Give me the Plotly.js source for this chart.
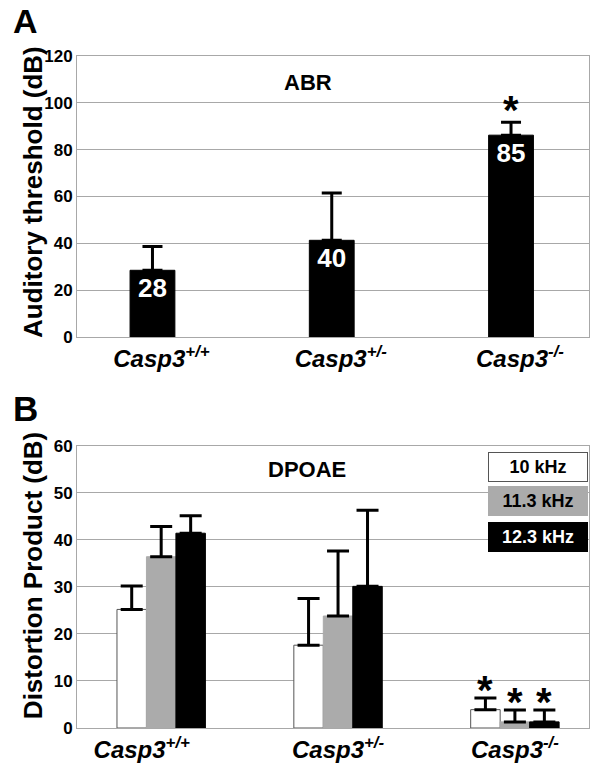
<!DOCTYPE html>
<html><head><meta charset="utf-8">
<script src="https://cdn.plot.ly/plotly-3.0.1.min.js"></script>
<style>html,body{margin:0;padding:0;background:#fff}#chart{width:600px;height:776px}</style>
</head><body><div id="chart"></div>
<script>
// ---- data ----
const genotypes = ['+/+', '+/-', '-/-'];
const abrMean = [28.5, 41.3, 86.2];
const abrErr = [10.2, 20.2, 5.5];
const abrLabels = ['28', '40', '85'];
const abrSig = [false, false, true];

const freqNames = ['10 kHz', '11.3 kHz', '12.3 kHz'];
const dp10 = [25.2, 17.6, 3.9];
const dp10Err = [5.0, 9.9, 2.5];
const dp113 = [36.4, 23.8, 1.3];
const dp113Err = [6.4, 13.8, 2.5];
const dp123 = [41.4, 30.1, 1.3];
const dp123Err = [3.7, 16.2, 2.5];
const dpSig = [false, false, true];

const yTicksA = [0, 20, 40, 60, 80, 100, 120];
const yTicksB = [0, 10, 20, 30, 40, 50, 60];

// ---- styles ----
const FONT = 'Liberation Sans, Arial, sans-serif';
const freqColors = ['#ffffff', '#ababab', '#000000'];
const freqLines = ['#555555', '#ababab', '#000000'];
const freqText = ['#000000', '#000000', '#ffffff'];
const GRID = '#a8a8a8';

const cats = genotypes.map(g => 'Casp3' + g);
const tickText = genotypes.map(g => 'Casp3<sup>' + g + '</sup>');

const traces = [];
traces.push({
  type: 'bar', x: cats, y: abrMean, xaxis: 'x', yaxis: 'y', width: 0.25,
  marker: {color: '#000', line: {color: '#000', width: 1}},
  text: abrLabels, textposition: 'inside', insidetextanchor: 'end', textangle: 0,
  textfont: {family: FONT, size: 26, color: '#fff', weight: 'bold'},
  error_y: {type: 'data', symmetric: false, array: abrErr, arrayminus: abrErr.map(() => 0),
            color: '#000', thickness: 3, width: 10},
  showlegend: false, hoverinfo: 'none'
});
const dpMeans = [dp10, dp113, dp123];
const dpErrs = [dp10Err, dp113Err, dp123Err];
freqNames.forEach((f, i) => {
  traces.push({
    type: 'bar', name: f, x: cats, y: dpMeans[i], xaxis: 'x2', yaxis: 'y2',
    marker: {color: freqColors[i], line: {color: freqLines[i], width: 1}},
    error_y: {type: 'data', symmetric: false, array: dpErrs[i], arrayminus: dpErrs[i].map(() => 0),
              color: '#000', thickness: 3, width: 11},
    showlegend: false, hoverinfo: 'none'
  });
});

const annotations = [];
// panel letters
annotations.push({text: 'A', xref: 'paper', yref: 'paper', x: 0, y: 1.084, xshift: -66,
  xanchor: 'left', yanchor: 'top', showarrow: false, font: {family: FONT, size: 34, weight: 'bold', color: '#000'}});
annotations.push({text: 'B', xref: 'paper', yref: 'paper', x: 0, y: 0.508, xshift: -66,
  xanchor: 'left', yanchor: 'top', showarrow: false, font: {family: FONT, size: 35, weight: 'bold', color: '#000'}});
// y titles
annotations.push({text: 'Auditory threshold (dB)', xref: 'paper', yref: 'paper', x: 0, xshift: -44, y: 0.7976,
  xanchor: 'center', yanchor: 'middle', textangle: -90, showarrow: false,
  font: {family: FONT, size: 26, weight: 'bold', color: '#000'}});
annotations.push({text: 'Distortion Product (dB)', xref: 'paper', yref: 'paper', x: 0, xshift: -44, y: 0.226,
  xanchor: 'center', yanchor: 'middle', textangle: -90, showarrow: false,
  font: {family: FONT, size: 26, weight: 'bold', color: '#000'}});
// panel titles
annotations.push({text: 'ABR', xref: 'paper', yref: 'paper', x: 0.451, y: 0.96, xanchor: 'center', yanchor: 'middle',
  showarrow: false, font: {family: FONT, size: 22, weight: 'bold', color: '#000'}});
annotations.push({text: 'DPOAE', xref: 'paper', yref: 'paper', x: 0.449, y: 0.385, xanchor: 'center', yanchor: 'middle',
  showarrow: false, font: {family: FONT, size: 22, weight: 'bold', color: '#000'}});
// legend boxes
const legY = [0.3888, 0.3373, 0.2847];
freqNames.forEach((f, i) => {
  annotations.push({text: f, xref: 'paper', yref: 'paper', x: 0.900, y: legY[i], xanchor: 'center', yanchor: 'middle',
    width: 96, height: 26, borderpad: 1, borderwidth: 1, bgcolor: freqColors[i], bordercolor: freqLines[i],
    showarrow: false, font: {family: FONT, size: 18, weight: 'bold', color: freqText[i]}});
});
// significance stars
abrSig.forEach((s, i) => {
  if (s) annotations.push({text: '*', xref: 'x', yref: 'y', x: i, y: abrMean[i] + abrErr[i],
    xanchor: 'center', yanchor: 'bottom', yshift: -12, showarrow: false,
    font: {family: FONT, size: 40, weight: 'bold', color: '#000'}});
});
const grpOff = [-1/6, 0, 1/6];
dpSig.forEach((s, i) => {
  if (!s) return;
  freqNames.forEach((f, k) => {
    annotations.push({text: '*', xref: 'x2', yref: 'y2', x: i + grpOff[k], y: dpMeans[k][i] + dpErrs[k][i],
      xanchor: 'center', yanchor: 'bottom', yshift: -16, showarrow: false,
      font: {family: FONT, size: 40, weight: 'bold', color: '#000'}});
  });
});

const xTickFont = {family: FONT, size: 24, weight: 'bold', style: 'italic', color: '#000'};
const yTickFont = {family: FONT, size: 17, weight: 'bold', color: '#000'};
const axisBase = {showline: true, mirror: true, linecolor: GRID, linewidth: 1, zeroline: false, fixedrange: true};

const layout = {
  width: 600, height: 776,
  margin: {l: 77, r: 11, t: 56, b: 48},
  paper_bgcolor: '#fff', plot_bgcolor: '#fff',
  barmode: 'group', bargap: 0.5, bargroupgap: 0,
  font: {family: FONT, color: '#000'},
  showlegend: false,
  xaxis: Object.assign({}, axisBase, {domain: [0, 1], anchor: 'y', type: 'category', range: [-0.421, 2.435],
    tickmode: 'array', tickvals: [0.05, 1.05, 2.05], ticktext: tickText, tickfont: xTickFont, showgrid: false, ticks: ''}),
  yaxis: Object.assign({}, axisBase, {domain: [0.5818, 1], anchor: 'x', range: [0, 120], tickvals: yTicksA,
    tickfont: yTickFont, showgrid: true, gridcolor: GRID, gridwidth: 1, ticks: ''}),
  xaxis2: Object.assign({}, axisBase, {domain: [0, 1], anchor: 'y2', type: 'category', range: [-0.476, 2.419],
    tickmode: 'array', tickvals: [-0.11, 1, 2], ticktext: tickText, tickfont: xTickFont, showgrid: false, ticks: ''}),
  yaxis2: Object.assign({}, axisBase, {domain: [0, 0.4201], anchor: 'x2', range: [0, 60], tickvals: yTicksB,
    tickfont: yTickFont, showgrid: true, gridcolor: GRID, gridwidth: 1, ticks: ''}),
  annotations: annotations
};

Plotly.newPlot('chart', traces, layout, {staticPlot: true, displayModeBar: false});
</script>
</body></html>
